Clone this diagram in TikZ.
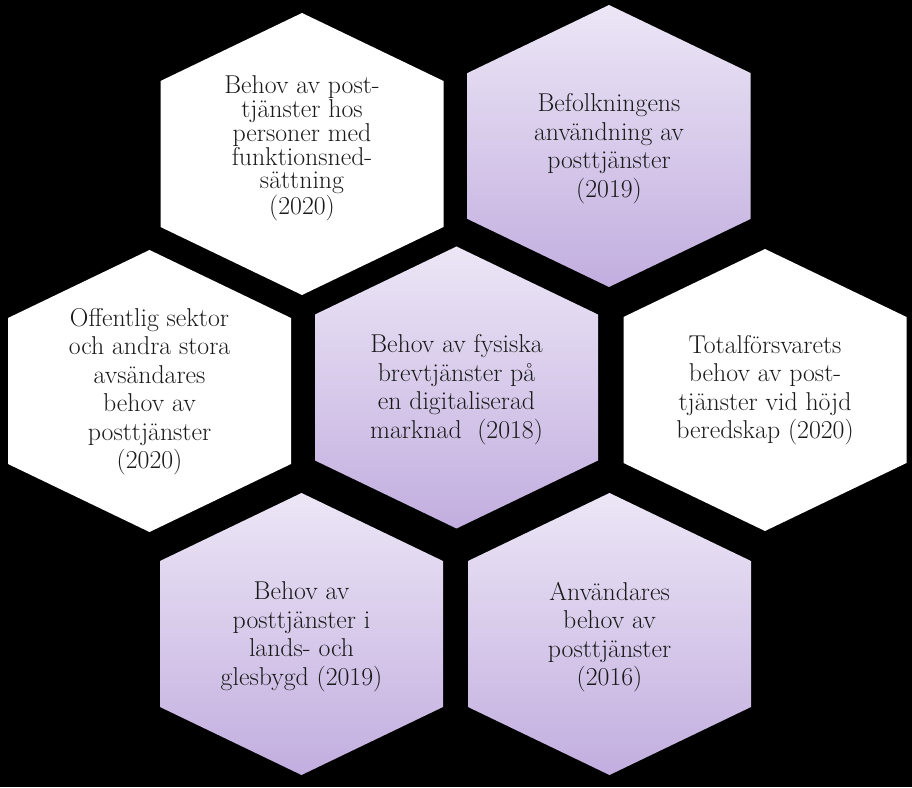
\documentclass[tikz,border=0pt]{standalone}
\usepackage{fontspec}
\definecolor{lavtop}{HTML}{ECE6F6}
\definecolor{lavbot}{HTML}{C2AEDF}
\definecolor{txt}{HTML}{1A1A1A}
\newcommand\hexat[3]{\path[#3] (#1+141.5,#2+73) -- (#1,#2+141) -- (#1-141.5,#2+73) -- (#1-141.5,#2-73) -- (#1,#2-141) -- (#1+141.5,#2-73) -- cycle;}
\begin{document}
\begin{tikzpicture}[x=1pt,y=1pt,
  hexwhite/.style={fill=white},
  hexpurple/.style={top color=lavtop,bottom color=lavbot},
  lbl/.style={align=center,text=txt,font=\fontsize{25.8}{28.5}\selectfont,inner sep=0pt},
  lbltight/.style={lbl,font=\fontsize{25.8}{23.8}\selectfont}]
\fill[black] (0,0) rectangle (912,787);
\useasboundingbox (0,0) rectangle (912,787);
\hexat{302}{633}{hexwhite}
\hexat{609}{641}{hexpurple}
\hexat{149.5}{396}{hexwhite}
\hexat{456.5}{399.5}{hexpurple}
\hexat{765}{397}{hexwhite}
\hexat{301.5}{153}{hexpurple}
\hexat{609.5}{153}{hexpurple}
\node[lbltight] (a) at (302,638.7) {Behov av post-\\tjänster hos\\personer med\\funktionsned-\\sättning\\(2020)};
\node[lbl] (b) at (609,638.3) {Befolkningens\\användning av\\posttjänster\\(2019)};
\node[lbl] (c) at (149.5,395.5) {Offentlig sektor\\och andra stora\\avsändares\\behov av\\posttjänster\\(2020)};
\node[lbl] (d) at (456.5,397.5) {Behov av fysiska\\brevtjänster på\\en digitaliserad\\marknad\ \ (2018)};
\node[lbl] (e) at (765,396.7) {Totalförsvarets\\behov av post-\\tjänster vid höjd\\beredskap (2020)};
\node[lbl] (f) at (301.5,150) {Behov av\\posttjänster i\\lands- och\\glesbygd (2019)};
\node[lbl] (g) at (609.5,150) {Användares\\behov av\\posttjänster\\(2016)};
\end{tikzpicture}
\end{document}
